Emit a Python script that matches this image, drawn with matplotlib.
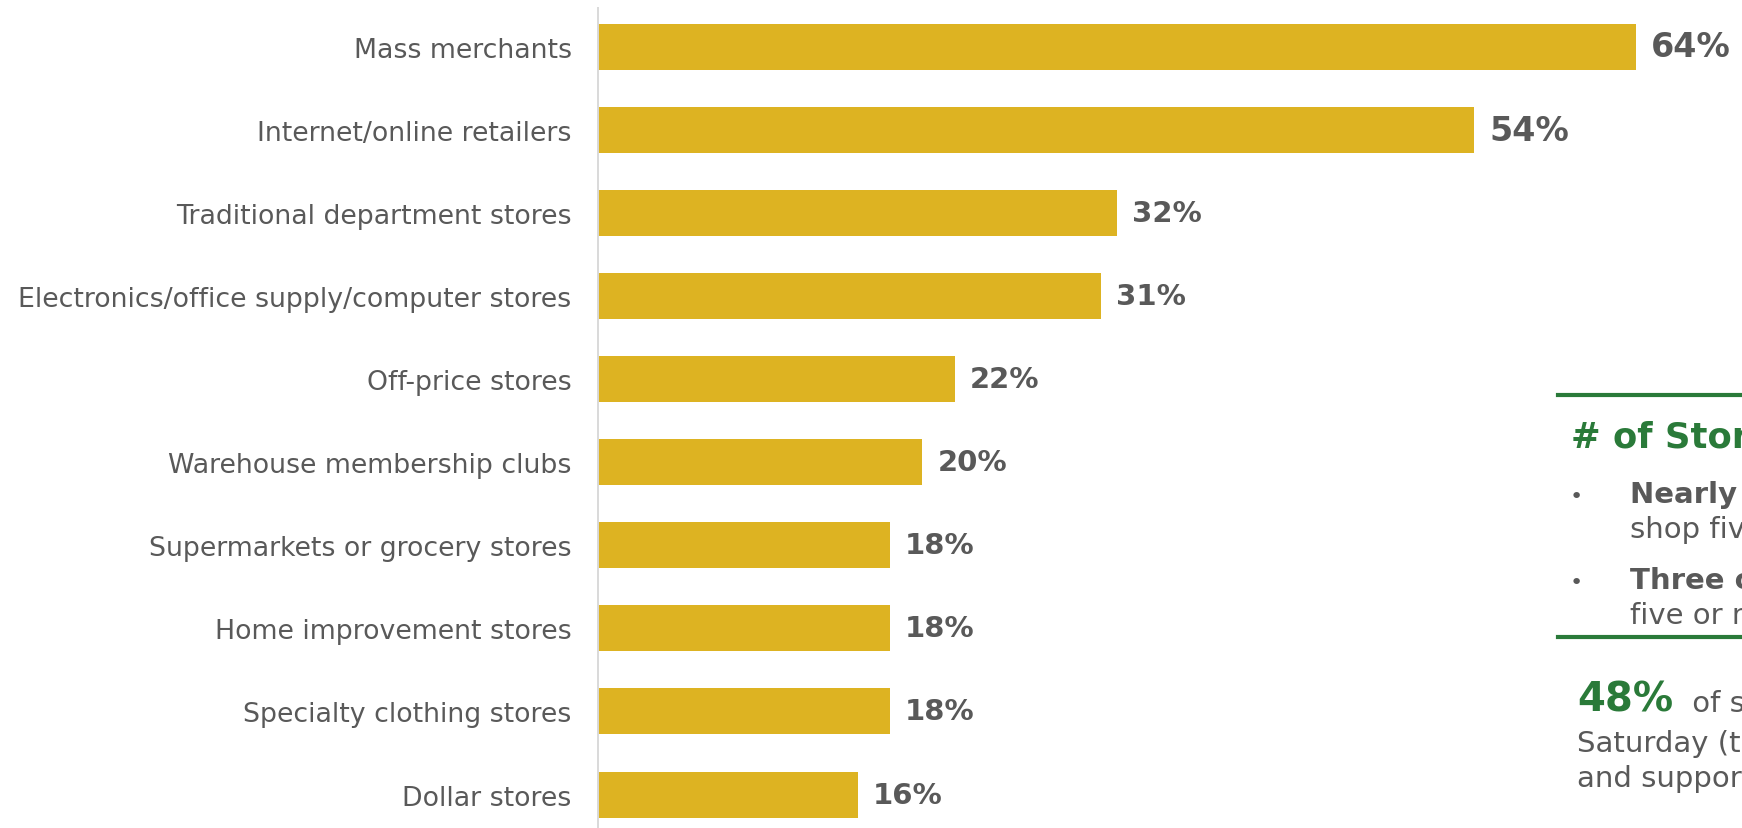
'''
Where holiday shoppers plan to shop, by store type, with a side panel
of notes on the number of stores shopped.
'''

import matplotlib
matplotlib.use('Agg')
import matplotlib.pyplot as plt
import numpy as np

#######################################################

store_types = ['Mass merchants',
               'Internet/online retailers',
               'Traditional department stores',
               'Electronics/office supply/computer stores',
               'Off-price stores',
               'Warehouse membership clubs',
               'Supermarkets or grocery stores',
               'Home improvement stores',
               'Specialty clothing stores',
               'Dollar stores']
pct_shopping = [64, 54, 32, 31, 22, 20, 18, 18, 18, 16]

panel_title = '# of Stores Shopped'
bullet_bold = ['Nearly half', 'Three out of ten']
bullet_line2 = ['shop five or more store types', 'five or more stores in one day']
callout_pct = '48%'
callout_lines = [' of shoppers plan to shop on Small Business',
                 'Saturday (the Saturday after Thanksgiving)',
                 'and support local retailers']

gold  = '#DDB322'
gray  = '#595959'
green = '#2A7A39'

#######################################################

W, H = 1742, 829
fig = plt.figure(figsize=(W/100., H/100.), dpi=100)
ax = fig.add_axes([598./W, 0.0, 1 - 598./W, 1 - 9./H])

y = np.arange(len(store_types))
ax.barh(y, pct_shopping, height=0.554, color=gold)
ax.set_ylim(9.403, -0.4695)
ax.set_xlim(0, 70.53)

for i, v in enumerate(pct_shopping):
    # the two biggest bars get slightly larger labels
    fs = 24 if i < 2 else 21
    ax.annotate('%d%%' % v, xy=(v, i), xytext=(11, 0), textcoords='offset points',
                va='center', ha='left', fontsize=fs, fontweight='bold', color=gray)

ax.set_yticks(y)
ax.set_yticklabels(store_types, fontsize=19.3, color=gray)
ax.tick_params(axis='y', length=0, pad=19)
ax.set_xticks([])
for side in ['top', 'right', 'bottom']:
    ax.spines[side].set_visible(False)
ax.spines['left'].set_color('#D9D9D9')
ax.spines['left'].set_linewidth(1.4)

# side panel, positioned in pixels from the top-left corner
def px_text(x, yb, s, **kw):
    fig.text(x/float(W), 1 - yb/float(H), s, va='baseline', ha='left', **kw)

for yl in [396, 638]:
    fig.add_artist(plt.Line2D([1558./W, 1.0], [1 - yl/float(H)]*2,
                              color=green, lw=3, transform=fig.transFigure))

px_text(1571, 448, panel_title, fontsize=25.5, fontweight='bold', color=green)

for yb, b, l2 in zip([503, 589], bullet_bold, bullet_line2):
    px_text(1570, yb, u'\u2022', fontsize=16, color=gray)
    px_text(1630, yb, b, fontsize=21, fontweight='bold', color=gray)
    px_text(1630, yb + 35, l2, fontsize=21, color=gray)

px_text(1577, 712, callout_pct, fontsize=29, fontweight='bold', color=green)
px_text(1683, 712, callout_lines[0], fontsize=21, color=gray)
px_text(1577, 752, callout_lines[1], fontsize=21, color=gray)
px_text(1577, 787, callout_lines[2], fontsize=21, color=gray)

fig.savefig('out.png', dpi=100)
